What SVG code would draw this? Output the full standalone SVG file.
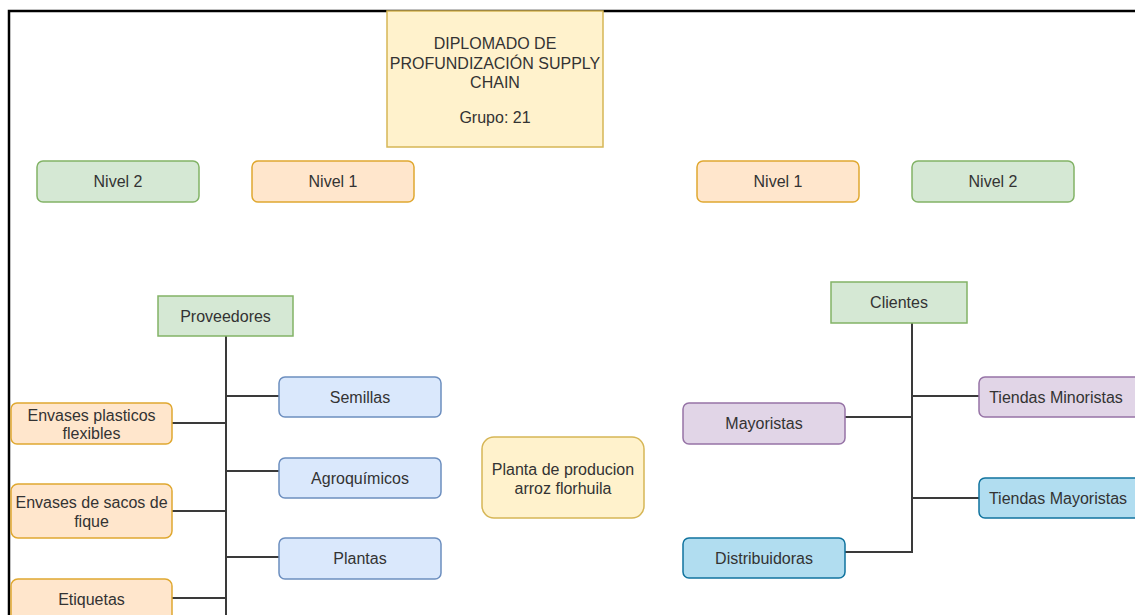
<svg xmlns="http://www.w3.org/2000/svg" width="1135" height="615" viewBox="0 0 1135 615">
  <style>
    text { font-family: "Liberation Sans", Arial, sans-serif; font-size: 16px; fill: #333333; text-anchor: middle; dominant-baseline: central; }
    .green { fill: #d5e8d4; stroke: #82b366; stroke-width: 1.5; }
    .orange { fill: #ffe6cc; stroke: #e0a830; stroke-width: 1.5; }
    .yellow { fill: #fff2cc; stroke: #d6b656; stroke-width: 1.5; }
    .blue { fill: #dae8fc; stroke: #6c8ebf; stroke-width: 1.5; }
    .purple { fill: #e1d5e7; stroke: #9673a6; stroke-width: 1.5; }
    .cyan { fill: #b1ddf0; stroke: #10739e; stroke-width: 1.5; }
    .edge { fill: none; stroke: #3a3a3a; stroke-width: 2; }
  </style>
  <rect width="1135" height="615" fill="#ffffff"/>

  <!-- page frame -->
  <path d="M9,615 V11 H1135" fill="none" stroke="#000000" stroke-width="2.5"/>

  <!-- connectors -->
  <g id="connectors">
    <path class="edge" d="M226,336 V615"/>
    <path class="edge" d="M226,396 H279"/>
    <path class="edge" d="M226,471 H279"/>
    <path class="edge" d="M226,557 H279"/>
    <path class="edge" d="M172,423 H226"/>
    <path class="edge" d="M172,511 H226"/>
    <path class="edge" d="M172,598 H226"/>
    <path class="edge" d="M912,323 V552 H845"/>
    <path class="edge" d="M912,396 H979"/>
    <path class="edge" d="M912,498 H979"/>
    <path class="edge" d="M845,417 H912"/>
  </g>

  <g id="title">
    <rect class="yellow" x="387" y="11" width="216" height="136"/>
    <text x="495" y="43">DIPLOMADO DE</text>
    <text x="495" y="63">PROFUNDIZACIÓN SUPPLY</text>
    <text x="495" y="82">CHAIN</text>
    <text x="495" y="117">Grupo: 21</text>
  </g>

  <g id="nivel2-left">
    <rect class="green" x="37" y="161" width="162" height="41" rx="6"/>
    <text x="118" y="181.5">Nivel 2</text>
  </g>
  <g id="nivel1-left">
    <rect class="orange" x="252" y="161" width="162" height="41" rx="6"/>
    <text x="333" y="181.5">Nivel 1</text>
  </g>
  <g id="nivel1-right">
    <rect class="orange" x="697" y="161" width="162" height="41" rx="6"/>
    <text x="778" y="181.5">Nivel 1</text>
  </g>
  <g id="nivel2-right">
    <rect class="green" x="912" y="161" width="162" height="41" rx="6"/>
    <text x="993" y="181.5">Nivel 2</text>
  </g>

  <g id="proveedores">
    <rect class="green" x="158" y="296" width="135" height="40"/>
    <text x="225.5" y="316">Proveedores</text>
  </g>
  <g id="semillas">
    <rect class="blue" x="279" y="377" width="162" height="40" rx="6"/>
    <text x="360" y="397">Semillas</text>
  </g>
  <g id="agroquimicos">
    <rect class="blue" x="279" y="458" width="162" height="40" rx="6"/>
    <text x="360" y="478">Agroquímicos</text>
  </g>
  <g id="plantas">
    <rect class="blue" x="279" y="538" width="162" height="41" rx="6"/>
    <text x="360" y="558.5">Plantas</text>
  </g>
  <g id="envases-plasticos">
    <rect class="orange" x="11" y="403" width="161" height="41" rx="6"/>
    <text x="91.5" y="415">Envases plasticos</text>
    <text x="91.5" y="433.5">flexibles</text>
  </g>
  <g id="envases-sacos">
    <rect class="orange" x="11" y="484" width="161" height="54" rx="7"/>
    <text x="91.5" y="502">Envases de sacos de</text>
    <text x="91.5" y="521">fique</text>
  </g>
  <g id="etiquetas">
    <rect class="orange" x="11" y="579" width="161" height="54" rx="7"/>
    <text x="91.5" y="599">Etiquetas</text>
  </g>

  <g id="planta">
    <rect class="yellow" x="482" y="437" width="162" height="81" rx="12"/>
    <text x="563" y="469.5">Planta de producion</text>
    <text x="563" y="488.5">arroz florhuila</text>
  </g>

  <g id="clientes">
    <rect class="green" x="831" y="282" width="136" height="41"/>
    <text x="899" y="302.5">Clientes</text>
  </g>
  <g id="tiendas-minoristas">
    <rect class="purple" x="979" y="377" width="162" height="40" rx="6"/>
    <text x="1056" y="397">Tiendas Minoristas</text>
  </g>
  <g id="tiendas-mayoristas">
    <rect class="cyan" x="979" y="478" width="162" height="40" rx="6"/>
    <text x="1058" y="498">Tiendas Mayoristas</text>
  </g>
  <g id="mayoristas">
    <rect class="purple" x="683" y="403" width="162" height="41" rx="6"/>
    <text x="764" y="423.5">Mayoristas</text>
  </g>
  <g id="distribuidoras">
    <rect class="cyan" x="683" y="538" width="162" height="40" rx="6"/>
    <text x="764" y="558">Distribuidoras</text>
  </g>
</svg>
